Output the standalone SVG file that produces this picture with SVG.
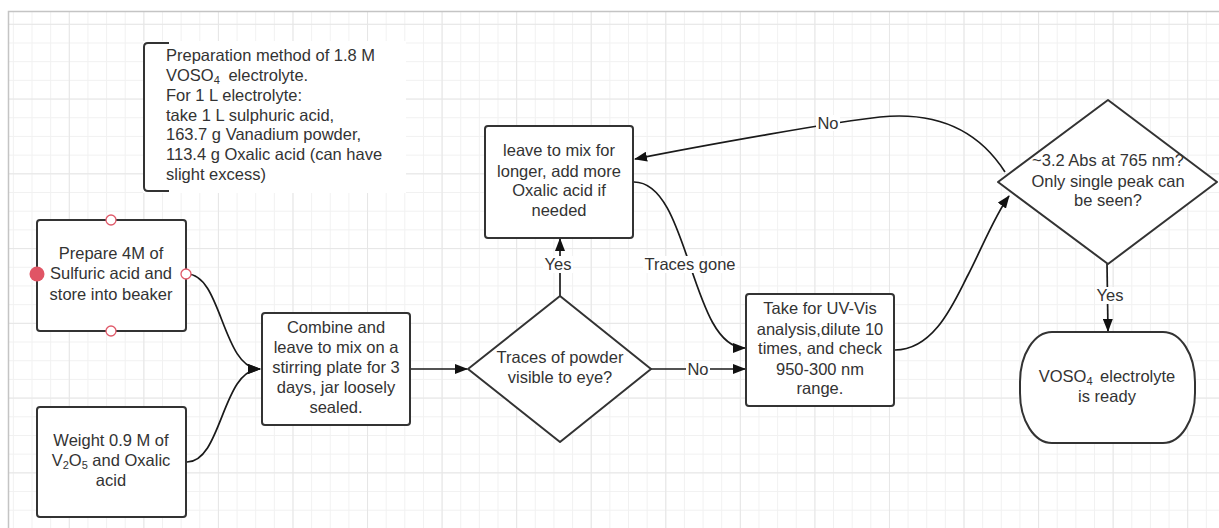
<svg xmlns="http://www.w3.org/2000/svg" width="1219" height="528" viewBox="0 0 1219 528">
  <defs>
    <pattern id="gridMinor" patternUnits="userSpaceOnUse" x="68.8" y="23.8" width="18.64" height="18.69">
      <rect x="0" y="0" width="1" height="18.69" fill="#f1f1f1"/>
      <rect x="0" y="0" width="18.64" height="1" fill="#f1f1f1"/>
    </pattern>
    <pattern id="gridMajor" patternUnits="userSpaceOnUse" x="68.8" y="23.8" width="74.56" height="74.76">
      <rect x="0" y="0" width="1" height="74.76" fill="#e6e6e6"/>
      <rect x="0" y="0" width="74.56" height="1" fill="#e6e6e6"/>
    </pattern>
    <marker id="arrow" viewBox="0 0 13 10" refX="12" refY="5" markerWidth="13" markerHeight="10" markerUnits="userSpaceOnUse" orient="auto">
      <path d="M0,0 L13,5 L0,10 z" fill="#111"/>
    </marker>
  </defs>
  <style>
    .box { fill: #ffffff; stroke: #333333; stroke-width: 2; }
    .txt { font-family: "Liberation Sans", Arial, sans-serif; font-size: 16.5px; fill: #333333; }
    .mid { text-anchor: middle; }
    .edge { fill: none; stroke: #1a1a1a; stroke-width: 1.7; }
    .lbl { fill: #ffffff; }
    .port { fill: #ffffff; stroke: #e05a6a; stroke-width: 1.3; }
  </style>

  <!-- canvas with grid -->
  <rect x="0" y="0" width="1219" height="528" fill="#ffffff"/>
  <rect x="9" y="12" width="1210" height="516" fill="url(#gridMinor)"/>
  <rect x="9" y="12" width="1210" height="516" fill="url(#gridMajor)"/>
  <path d="M8.5,528 L8.5,11.5 L1219,11.5" fill="none" stroke="#c4c4c4" stroke-width="1.5"/>

  <!-- annotation note -->
  <g id="note">
    <rect x="143" y="41" width="263" height="152" fill="#ffffff"/>
    <path d="M169,43 L148,43 Q144,43 144,47 L144,187 Q144,191 148,191 L169,191" fill="none" stroke="#333333" stroke-width="2"/>
    <text class="txt" x="166" y="61">Preparation method of 1.8 M</text>
    <text class="txt" x="166" y="81">VOSO<tspan font-size="11" dy="3">4</tspan><tspan dy="-3" dx="4"> electrolyte.</tspan></text>
    <text class="txt" x="166" y="101">For 1 L electrolyte:</text>
    <text class="txt" x="166" y="120.5">take 1 L sulphuric acid,</text>
    <text class="txt" x="166" y="140">163.7 g Vanadium powder,</text>
    <text class="txt" x="166" y="160">113.4 g Oxalic acid (can have</text>
    <text class="txt" x="166" y="179.5">slight excess)</text>
  </g>

  <!-- connectors -->
  <g id="connectors">
    <path class="edge" d="M187,274 C222,274 222,369 260,369" marker-end="url(#arrow)"/>
    <path class="edge" d="M187,462 C222,462 222,369 260,369" marker-end="url(#arrow)"/>
    <path class="edge" d="M410,369 L467,369" marker-end="url(#arrow)"/>
    <path class="edge" d="M651,369 L745,369" marker-end="url(#arrow)"/>
    <path class="edge" d="M560,296 L560,239" marker-end="url(#arrow)"/>
    <path class="edge" d="M634,182 C690,182 690,348 745,348" marker-end="url(#arrow)"/>
    <path class="edge" d="M895,350 C935,350 955,300 968,275 S995,215 1009,196" marker-end="url(#arrow)"/>
    <path class="edge" d="M1005,172 C975,125 930,112 880,117 C840,121 700,146 635,159" marker-end="url(#arrow)"/>
    <path class="edge" d="M1107,264 L1108,331" marker-end="url(#arrow)"/>

    <!-- connector labels -->
    <rect class="lbl" x="686" y="361" width="24" height="16"/>
    <text class="txt mid" x="698" y="375">No</text>
    <rect class="lbl" x="543" y="256" width="30" height="17"/>
    <text class="txt mid" x="558" y="270">Yes</text>
    <rect class="lbl" x="643" y="256" width="94" height="17"/>
    <text class="txt mid" x="690" y="270">Traces gone</text>
    <rect class="lbl" x="816" y="115" width="24" height="16"/>
    <text class="txt mid" x="828" y="129">No</text>
    <rect class="lbl" x="1095" y="287" width="30" height="17"/>
    <text class="txt mid" x="1110" y="301">Yes</text>
  </g>

  <!-- Prepare sulfuric acid -->
  <g id="prepare-acid">
    <rect class="box" x="37" y="220" width="149" height="111" rx="3"/>
    <text class="txt mid" x="111" y="259">Prepare 4M of</text>
    <text class="txt mid" x="111" y="279">Sulfuric acid and</text>
    <text class="txt mid" x="111" y="299.5">store into beaker</text>
    <circle class="port" cx="111" cy="220" r="5"/>
    <circle class="port" cx="111" cy="331" r="5"/>
    <circle class="port" cx="186" cy="274" r="5"/>
    <circle cx="37" cy="274" r="7.5" fill="#e05565"/>
  </g>

  <!-- Weigh V2O5 and oxalic acid -->
  <g id="weigh-v2o5">
    <rect class="box" x="37" y="407" width="149" height="110" rx="3"/>
    <text class="txt mid" x="111" y="446">Weight 0.9 M of</text>
    <text class="txt mid" x="111" y="466">V<tspan font-size="11" dy="3">2</tspan><tspan dy="-3">O</tspan><tspan font-size="11" dy="3">5</tspan><tspan dy="-3"> and Oxalic</tspan></text>
    <text class="txt mid" x="111" y="486">acid</text>
  </g>

  <!-- Combine and stir -->
  <g id="combine">
    <rect class="box" x="262" y="313" width="148" height="112" rx="3"/>
    <text class="txt mid" x="336" y="332.5">Combine and</text>
    <text class="txt mid" x="336" y="353">leave to mix on a</text>
    <text class="txt mid" x="336" y="373">stirring plate for 3</text>
    <text class="txt mid" x="336" y="393">days, jar loosely</text>
    <text class="txt mid" x="336" y="412.5">sealed.</text>
  </g>

  <!-- Decision: traces visible -->
  <g id="traces-check">
    <path class="box" d="M560,296 L651,369 L560,442 L468,369 Z" stroke-linejoin="round"/>
    <text class="txt mid" x="560" y="363">Traces of powder</text>
    <text class="txt mid" x="560" y="383">visible to eye?</text>
  </g>

  <!-- Leave to mix longer -->
  <g id="mix-longer">
    <rect class="box" x="485" y="126" width="148" height="112" rx="3"/>
    <text class="txt mid" x="559" y="156">leave to mix for</text>
    <text class="txt mid" x="559" y="176.5">longer, add more</text>
    <text class="txt mid" x="559" y="196">Oxalic acid if</text>
    <text class="txt mid" x="559" y="216">needed</text>
  </g>

  <!-- UV-Vis analysis -->
  <g id="uv-vis">
    <rect class="box" x="746" y="294" width="148" height="112" rx="3"/>
    <text class="txt mid" x="820" y="314">Take for UV-Vis</text>
    <text class="txt mid" x="820" y="335">analysis,dilute 10</text>
    <text class="txt mid" x="820" y="354">times, and check</text>
    <text class="txt mid" x="820" y="375">950-300 nm</text>
    <text class="txt mid" x="820" y="394">range.</text>
  </g>

  <!-- Decision: absorbance check -->
  <g id="abs-check">
    <path class="box" d="M1108,100 L1217,182 L1108,264 L998,182 Z" stroke-linejoin="round"/>
    <text class="txt mid" x="1108" y="166">~3.2 Abs at 765 nm?</text>
    <text class="txt mid" x="1108" y="187">Only single peak can</text>
    <text class="txt mid" x="1108" y="206">be seen?</text>
  </g>

  <!-- Terminal: electrolyte ready -->
  <g id="ready">
    <rect class="box" x="1020" y="332" width="175" height="111" rx="32" ry="50"/>
    <text class="txt mid" x="1107" y="381.5">VOSO<tspan font-size="11" dy="3">4</tspan><tspan dy="-3" dx="3"> electrolyte</tspan></text>
    <text class="txt mid" x="1107" y="401.5">is ready</text>
  </g>
</svg>
